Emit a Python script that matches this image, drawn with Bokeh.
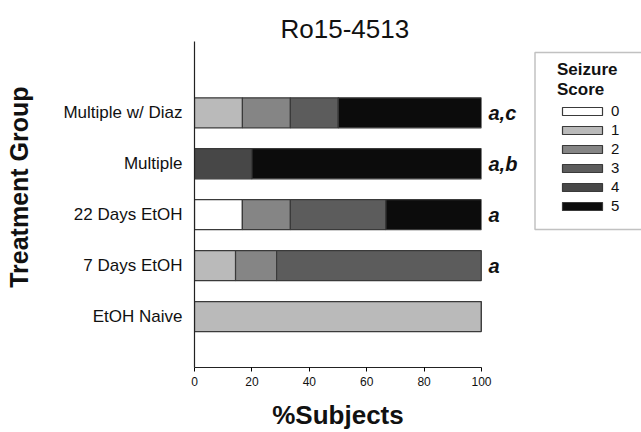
from bokeh.plotting import figure
from bokeh.models import (ColumnDataSource, Range1d, FixedTicker, Legend, LegendItem,
                          LinearAxis, BoxAnnotation)
from bokeh.layouts import row
from bokeh.embed import file_html
from bokeh.resources import INLINE

# ---- data ----
groups = ["EtOH Naive", "7 Days EtOH", "22 Days EtOH", "Multiple", "Multiple w/ Diaz"]
score0 = [0, 0, 16.7, 0, 0]
score1 = [100, 14.3, 0, 0, 16.7]
score2 = [0, 14.3, 16.7, 0, 16.7]
score3 = [0, 71.4, 33.3, 0, 16.7]
score4 = [0, 0, 0, 20, 0]
score5 = [0, 0, 33.3, 80, 50]
sig_labels = ["", "a", "a", "a,b", "a,c"]
score_names = ["0", "1", "2", "3", "4", "5"]
x_ticks = [0, 20, 40, 60, 80, 100]

colors = ["#ffffff", "#bababa", "#858585", "#5c5c5c", "#474747", "#0c0c0c"]
FONT = "Liberation Sans"
TXT = "#111111"
H = 432
TOP, BOTTOM = 41, 65           # frame borders shared by both panels
FRAME_H = H - TOP - BOTTOM

ypos = list(range(1, len(groups) + 1))
src = ColumnDataSource(dict(y=ypos, s0=score0, s1=score1, s2=score2,
                            s3=score3, s4=score4, s5=score5))
keys = ["s0", "s1", "s2", "s3", "s4", "s5"]

# ---------------- main chart ----------------
p = figure(width=533, height=H, output_backend="svg", toolbar_location=None,
           x_range=Range1d(0, 100), y_range=Range1d(0, 6.4),
           min_border_left=194, min_border_right=52,
           min_border_top=TOP, min_border_bottom=BOTTOM)
p.outline_line_color = None
p.xgrid.visible = False
p.ygrid.visible = False

rends = p.hbar_stack(keys, y="y", height=0.59, source=src, color=colors,
                     line_color="#3a3a3a", line_width=1.2)
for r, c in zip(rends, colors):
    r.glyph.fill_color = c
    r.glyph.line_color = "#3a3a3a"

p.title.text = "Ro15-4513"
p.title.align = "left"
p.title.offset = 86
p.title.text_font = FONT
p.title.text_font_size = "26px"
p.title.text_font_style = "normal"
p.title.text_color = TXT
p.title.standoff = -4

p.xaxis.ticker = FixedTicker(ticks=x_ticks)
p.xaxis.major_tick_out = 4
p.xaxis.major_tick_in = 0
p.xaxis.minor_tick_line_color = None
p.xaxis.major_label_text_font = FONT
p.xaxis.major_label_text_font_size = "12px"
p.xaxis.major_label_text_color = TXT
p.xaxis.major_label_standoff = 5
p.xaxis.axis_line_color = "#222222"
p.xaxis.axis_line_width = 1.2
p.xaxis.axis_label = "%Subjects"
p.xaxis.axis_label_text_font = FONT
p.xaxis.axis_label_text_font_size = "26px"
p.xaxis.axis_label_text_font_style = "bold"
p.xaxis.axis_label_text_color = TXT
p.xaxis.axis_label_text_line_height = 1.0
p.xaxis.axis_label_standoff = 11

p.yaxis.ticker = FixedTicker(ticks=ypos)
p.yaxis.major_label_overrides = {y: g for y, g in zip(ypos, groups)}
p.yaxis.major_tick_line_color = None
p.yaxis.minor_tick_line_color = None
p.yaxis.major_label_text_font = FONT
p.yaxis.major_label_text_font_size = "17px"
p.yaxis.major_label_text_color = TXT
p.yaxis.major_label_standoff = 6
p.yaxis.axis_line_color = "#222222"
p.yaxis.axis_line_width = 1.2
p.yaxis.axis_label = "\u00a0" * 5 + "Treatment Group"
p.yaxis.axis_label_text_font = FONT
p.yaxis.axis_label_text_font_size = "25px"
p.yaxis.axis_label_text_font_style = "bold"
p.yaxis.axis_label_text_color = TXT
p.yaxis.axis_label_standoff = 27

# significance letters as a right-hand axis
sig_axis = LinearAxis(ticker=FixedTicker(ticks=ypos),
                      major_label_overrides={y: t for y, t in zip(ypos, sig_labels)},
                      axis_line_color=None, major_tick_line_color=None,
                      minor_tick_line_color=None, major_label_standoff=1,
                      major_label_text_font=FONT, major_label_text_font_size="20px",
                      major_label_text_font_style="bold italic",
                      major_label_text_color=TXT)
p.add_layout(sig_axis, "right")

# ---------------- legend panel ----------------
lw = 641 - 533
lg = figure(width=lw, height=H, output_backend="svg", toolbar_location=None,
            x_range=Range1d(0, lw), y_range=Range1d(0, FRAME_H),
            x_axis_location=None, y_axis_location=None,
            min_border_left=0, min_border_right=0,
            min_border_top=TOP, min_border_bottom=BOTTOM)
lg.outline_line_color = None
lg.xgrid.visible = False
lg.ygrid.visible = False
# legend swatches: same stacked bars, kept invisible in this panel
lrends = lg.hbar_stack(keys, y="y", height=0.5, source=src, color=colors,
                       line_color="#3a3a3a", line_width=1.2)
for r, c in zip(lrends, colors):
    r.glyph.fill_color = c
    r.glyph.line_color = "#3a3a3a"
    r.visible = False


def fy(canvas_y):
    return H - BOTTOM - canvas_y


lg.add_layout(BoxAnnotation(left=1.5, right=lw + 20, top=fy(52), bottom=fy(229),
                            fill_alpha=0, line_color="#333333", line_width=1.5))

items = [LegendItem(label=n, renderers=[r]) for n, r in zip(score_names, lrends)]
leg = Legend(items=items, location=(24, fy(214)), title="Seizure\nScore",
             title_text_font=FONT, title_text_font_size="17px", title_text_font_style="bold",
             title_text_color=TXT, title_text_align="center", title_standoff=2,
             title_text_line_height=0.95,
             label_text_font=FONT, label_text_font_size="15px", label_text_color=TXT,
             glyph_width=50, glyph_height=10, label_height=17, spacing=2,
             label_standoff=4, padding=0, margin=0, click_policy="none",
             inactive_fill_alpha=0,
             border_line_color=None, background_fill_alpha=0)
lg.add_layout(leg, "center")

layout = row(p, lg, spacing=0)
open("out.html", "w").write(file_html(layout, INLINE))
